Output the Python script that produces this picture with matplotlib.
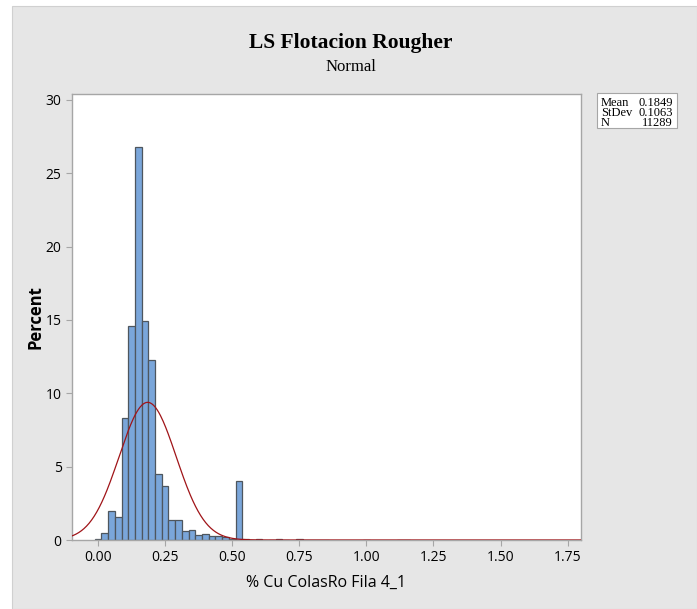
import numpy as np
import matplotlib
matplotlib.use('Agg')
import matplotlib.pyplot as plt
from matplotlib.patches import Rectangle

# histogram data (percent per 0.025 bin)
bin_centers = [0.000, 0.025, 0.050, 0.075, 0.100, 0.125, 0.150, 0.175, 0.200,
               0.225, 0.250, 0.275, 0.300, 0.325, 0.350, 0.375, 0.400, 0.425,
               0.450, 0.475, 0.500, 0.525, 0.550, 0.575, 0.600, 0.650, 0.675,
               0.700, 0.750, 0.775, 0.800, 0.825, 0.850, 1.000, 1.125, 1.150]
percent = [0.1, 0.5, 2.0, 1.6, 8.3, 14.6, 26.8, 14.9, 12.3,
           4.5, 3.7, 1.35, 1.35, 0.6, 0.7, 0.35, 0.4, 0.25,
           0.3, 0.2, 0.1, 4.05, 0.04, 0.02, 0.07, 0.02, 0.04,
           0.02, 0.05, 0.02, 0.02, 0.02, 0.02, 0.03, 0.02, 0.02]
bin_width = 0.025

# fitted normal
mean = 0.1849
stdev = 0.1063
n_obs = 11289

x_ticks = [0.00, 0.25, 0.50, 0.75, 1.00, 1.25, 1.50, 1.75]
y_ticks = [0, 5, 10, 15, 20, 25, 30]

bg = '#e6e6e6'
frame = '#a6a6a6'

fig = plt.figure(figsize=(6.97, 6.09), dpi=100, facecolor='white')
# gray panel behind the chart
fig.patches.append(Rectangle((12 / 697, 0), 1 - 12 / 697, 1 - 6 / 609,
                             transform=fig.transFigure, facecolor=bg,
                             edgecolor='#d0d0d0', linewidth=0.8, zorder=-10))

ax = fig.add_axes([72 / 697, 69 / 609, 509 / 697, 446 / 609])
ax.set_facecolor('white')

ax.bar(bin_centers, percent, width=bin_width, color='#7aa6da',
       edgecolor='#4e565e', linewidth=0.9, zorder=2)

xs = np.linspace(-0.1, 1.8, 600)
pdf = 100 * bin_width / (stdev * np.sqrt(2 * np.pi)) * np.exp(-0.5 * ((xs - mean) / stdev) ** 2)
ax.plot(xs, pdf, color='#a01418', linewidth=0.9, zorder=3)

ax.set_xlim(-0.097, 1.80)
ax.set_ylim(0, 30.4)
ax.set_xticks(x_ticks)
ax.set_xticklabels([f'{t:.2f}' for t in x_ticks])
ax.set_yticks(y_ticks)

for sp in ax.spines.values():
    sp.set_color(frame)
    sp.set_linewidth(1.0)
ax.tick_params(colors=frame, length=4, width=0.8, labelcolor='black',
               labelsize=10)
for lab in ax.get_xticklabels() + ax.get_yticklabels():
    lab.set_family('Open Sans')

ax.set_xlabel('% Cu ColasRo Fila 4_1', fontsize=11.5, family='Open Sans')
ax.xaxis.set_label_coords(0.5, -35 / 446)
ax.set_ylabel('Percent', fontsize=12, family='Open Sans', fontweight='bold')
ax.yaxis.set_label_coords(-27 / 509, 0.5)

fig.text(351 / 697, 1 - 43 / 609, 'LS Flotacion Rougher', ha='center',
         va='center', fontsize=15.5, fontweight='bold', family='Liberation Serif')
fig.text(351 / 697, 1 - 67 / 609, 'Normal', ha='center', va='center',
         fontsize=12, family='Liberation Serif')

# stats box
fig.patches.append(Rectangle((597 / 697, 1 - 128 / 609), 80 / 697, 35 / 609,
                             transform=fig.transFigure, facecolor='white',
                             edgecolor=frame, linewidth=0.8, zorder=5))
rows = [('Mean', f'{mean:.4f}'), ('StDev', f'{stdev:.4f}'), ('N', f'{n_obs}')]
for i, (k, v) in enumerate(rows):
    yy = 1 - (102.5 + i * 10.5) / 609
    fig.text(601 / 697, yy, k, ha='left', va='center', fontsize=9,
             family='Liberation Serif', zorder=6)
    fig.text(673 / 697, yy, v, ha='right', va='center', fontsize=9,
             family='Liberation Serif', zorder=6)

fig.savefig('out.png', dpi=100, facecolor='white')
